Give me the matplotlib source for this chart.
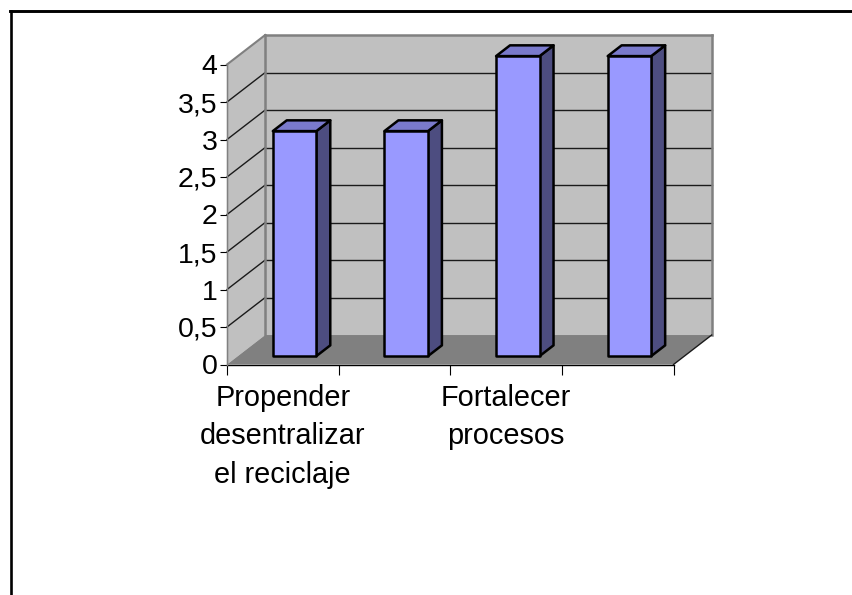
import matplotlib

matplotlib.use("Agg")
import matplotlib.pyplot as plt
from matplotlib.lines import Line2D
from matplotlib.patches import Polygon

categories = ["Propender\ndesentralizar\nel reciclaje", "", "Fortalecer\nprocesos", ""]
values = [3, 3, 4, 4]
y_ticks = [0, 0.5, 1, 1.5, 2, 2.5, 3, 3.5, 4]
y_labels = ["0", "0,5", "1", "1,5", "2", "2,5", "3", "3,5", "4"]

# oblique depth of the chart box, in data units
DEPTH_X = 0.342
DEPTH_Y = 0.393
BAR_WIDTH = 0.39
BAR_D0 = 0.285
BAR_D1 = 0.65

W, H = 852, 595

plt.rcParams["font.family"] = ["Liberation Sans", "DejaVu Sans"]

fig = plt.figure(figsize=(W / 100, H / 100), dpi=100)
ax = fig.add_axes([227 / W, 1 - 364.5 / H, 446.5 / W, 300 / H])
ax.set_xlim(0, len(values))
ax.set_ylim(0, 4)
for spine in ax.spines.values():
    spine.set_visible(False)
ax.patch.set_visible(False)


def pt(x, y, d=0.0):
    return (x + d * DEPTH_X, y + d * DEPTH_Y)


def face(points, color, edge="none", lw=0.0, z=1):
    ax.add_patch(Polygon(points, closed=True, facecolor=color, edgecolor=edge, linewidth=lw,
                         joinstyle="round", clip_on=False, zorder=z))


def seg(a, b, color="#1a1a1a", lw=1.0, z=2):
    ax.add_line(Line2D([a[0], b[0]], [a[1], b[1]], color=color, linewidth=lw, clip_on=False, zorder=z))


x_max = len(values)

# walls and floor
face([pt(0, 0, 1), pt(x_max, 0, 1), pt(x_max, 4, 1), pt(0, 4, 1)], "#C0C0C0")
face([pt(0, 0), pt(0, 0, 1), pt(0, 4, 1), pt(0, 4)], "#C0C0C0")
face([pt(0, 0), pt(x_max, 0), pt(x_max, 0, 1), pt(0, 0, 1)], "#808080")

# gridlines on both walls
for tick in y_ticks[1:-1]:
    seg(pt(0, tick), pt(0, tick, 1))
    seg(pt(0, tick, 1), pt(x_max, tick, 1))

# wall outlines
seg(pt(0, 0, 1), pt(0, 4, 1), "#808080", 1.8, 3)
seg(pt(0, 4), pt(0, 4, 1), "#808080", 1.5, 3)
seg(pt(0, 4, 1), pt(x_max, 4, 1), "#808080", 1.8, 3)
seg(pt(x_max, 4, 1), pt(x_max, 0, 1), "#808080", 1.8, 3)
seg(pt(0, 0), pt(0, 4), "#808080", 1.0, 3)

# front edges of the floor
seg(pt(x_max, 0), pt(x_max, 0, 1), "#1a1a1a", 1.0, 3)

# bars
for i, value in enumerate(values):
    x0 = i + 0.5 - BAR_WIDTH / 2 + 0.008
    x1 = x0 + BAR_WIDTH
    face([pt(x1, 0, BAR_D0), pt(x1, 0, BAR_D1), pt(x1, value, BAR_D1), pt(x1, value, BAR_D0)],
         "#4D4D80", "black", 1.8, 4)
    face([pt(x0, value, BAR_D0), pt(x1, value, BAR_D0), pt(x1, value, BAR_D1), pt(x0, value, BAR_D1)],
         "#7A7ACC", "black", 1.8, 4)
    face([pt(x0, 0, BAR_D0), pt(x1, 0, BAR_D0), pt(x1, value, BAR_D0), pt(x0, value, BAR_D0)],
         "#9999FF", "black", 1.8, 5)

# axes
ax.spines["bottom"].set_visible(True)
ax.spines["bottom"].set_linewidth(1.0)
ax.spines["left"].set_visible(True)
ax.spines["left"].set_linewidth(0.8)
ax.spines["left"].set_color("#333333")
ax.set_yticks(y_ticks, y_labels, fontsize=20.5)
ax.tick_params(axis="y", length=5, width=0.8, pad=2)
ax.set_xticks(range(x_max + 1), [""] * (x_max + 1))
ax.tick_params(axis="x", length=7, width=0.8)
ax.set_xticks([i + 0.5 for i in range(x_max)], categories, minor=True, fontsize=20.8, linespacing=1.47)
ax.tick_params(axis="x", which="minor", length=0, pad=14)

# outer frame, only top and left are visible
fig.add_artist(Line2D([11.3 / W, 11.3 / W], [0, 1 - 10.5 / H], color="black", linewidth=1.9))
fig.add_artist(Line2D([10.3 / W, 1], [1 - 10.5 / H, 1 - 10.5 / H], color="black", linewidth=2.1))

fig.savefig("out.png", dpi=100)
